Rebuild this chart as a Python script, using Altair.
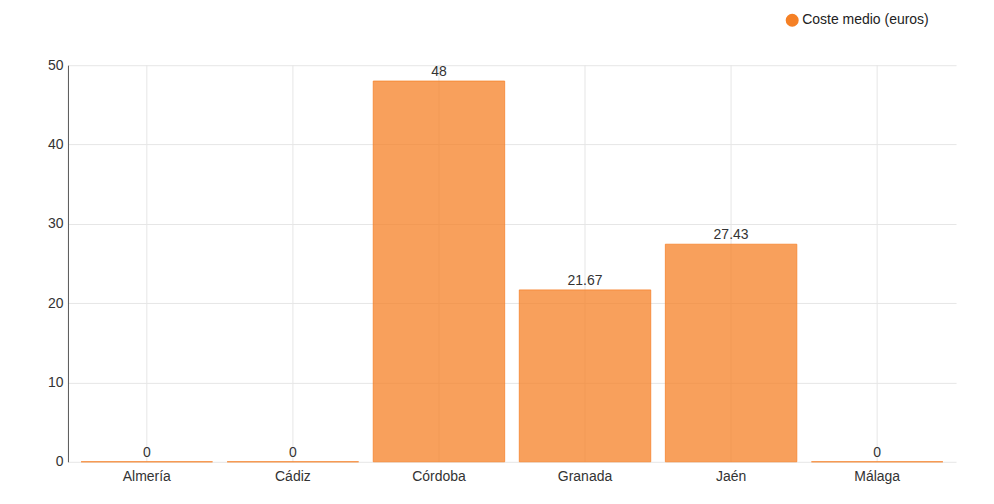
import altair as alt
import pandas as pd

provincias = ["Almería", "Cádiz", "Córdoba", "Granada", "Jaén", "Málaga"]
coste = [0, 0, 48, 21.67, 27.43, 0]
etiquetas = ["0", "0", "48", "21.67", "27.43", "0"]
serie = "Coste medio (euros)"

df = pd.DataFrame({"provincia": provincias, "coste": coste, "etiqueta": etiquetas, "serie": [serie] * len(provincias)})

FONT = "Liberation Sans"

x = alt.X("provincia:N", sort=provincias, title=None,
          scale=alt.Scale(paddingInner=0.1, paddingOuter=0.09),
          axis=alt.Axis(labelAngle=0, tickSize=0, labelPadding=8, domain=False,
                        grid=False, labelColor="#333333",
                        labelFontSize=14, labelFont=FONT))
y = alt.Y("coste:Q", title=None,
          scale=alt.Scale(domain=[0, 50], nice=False),
          axis=alt.Axis(values=[0, 10, 20, 30, 40, 50], tickSize=0, labelPadding=5,
                        domain=True, domainColor="#555555", gridColor="#e6e6e6",
                        labelColor="#333333", labelFontSize=14, labelFont=FONT))

vgrid = alt.Chart(df).mark_rule(color="#e6e6e6", strokeWidth=1).encode(x=x)

bars = alt.Chart(df).mark_bar(fillOpacity=0.75, stroke="#f58025", strokeOpacity=0.75, strokeWidth=1).encode(
    x=x, y=y,
    color=alt.Color("serie:N", scale=alt.Scale(domain=[serie], range=["#f58025"]),
                    legend=alt.Legend(title=None, orient="none", legendX=718, legendY=-52,
                                      symbolType="circle", symbolSize=170, symbolOpacity=1,
                                      symbolStrokeWidth=0, labelFontSize=14, labelFont=FONT,
                                      labelColor="#222222", labelOffset=3))
)

labels = alt.Chart(df).mark_text(dy=-9, fontSize=14, font=FONT, color="#333333").encode(
    x=x, y=y,
    text="etiqueta:N"
)

chart = (vgrid + bars + labels).properties(
    width=889, height=397,
    autosize=alt.AutoSizeParams(type="none"),
    padding={"left": 60, "top": 57, "right": 30, "bottom": 30}
).configure(font=FONT, view=alt.ViewConfig(stroke="transparent", strokeWidth=0))

chart.save("out.html", embed_options={"renderer": "svg", "actions": False})
